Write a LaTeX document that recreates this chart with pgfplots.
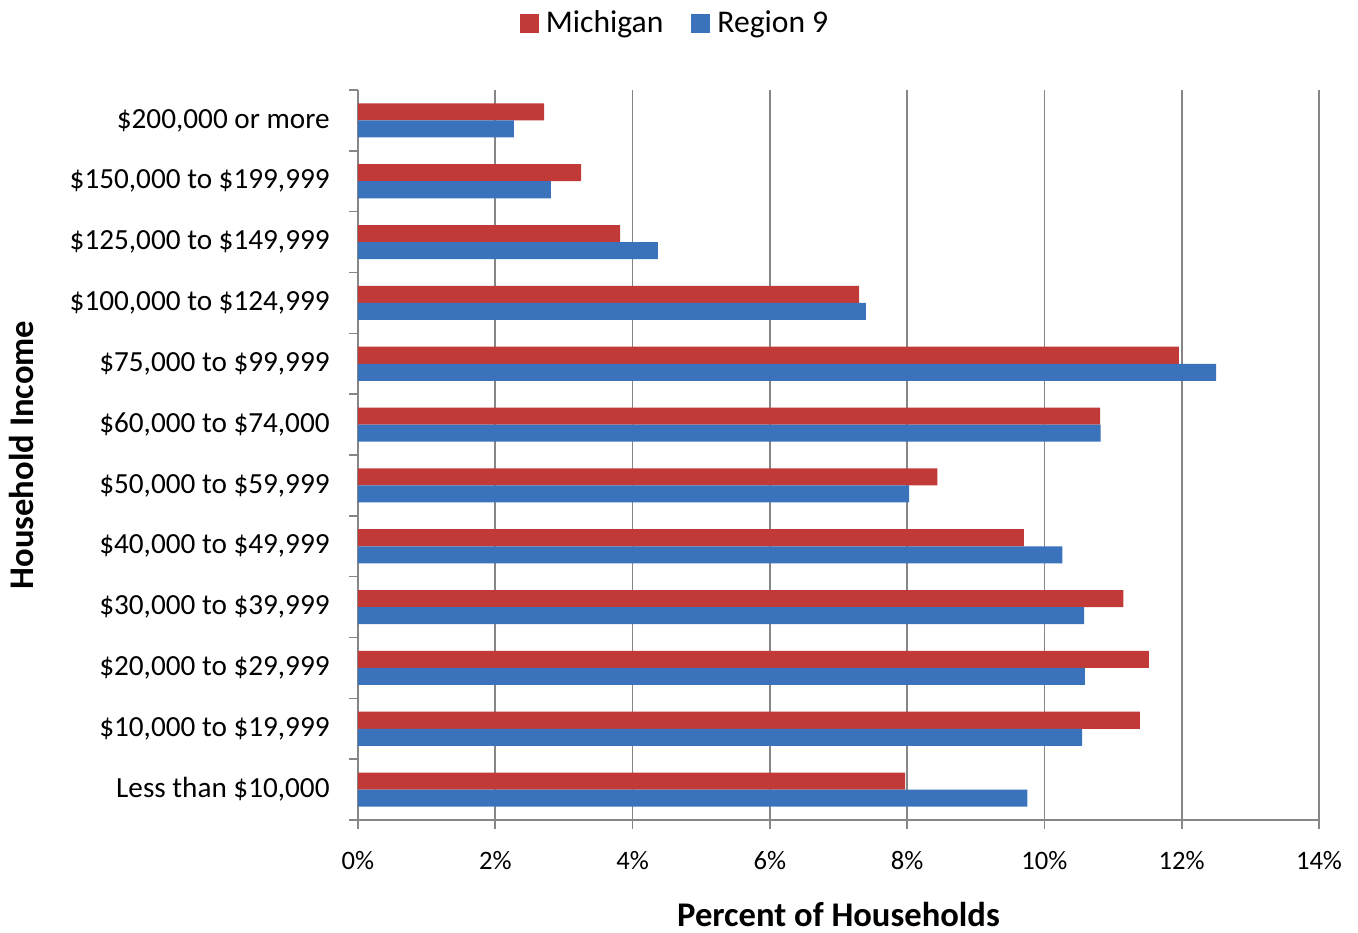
\documentclass[border=0pt]{standalone}
\usepackage{pgfplots}
\pgfplotsset{compat=1.18}
\usepackage{fontspec}
\setmainfont{Carlito}
\definecolor{gridgray}{HTML}{868686}
\definecolor{redbar}{HTML}{C13A38}
\definecolor{bluebar}{HTML}{3A73BC}
\begin{document}
\begin{tikzpicture}
\begin{axis}[
  scale only axis,
  width=480.5pt, height=365pt,
  xmin=0, xmax=14, ymin=-0.5, ymax=11.5,
  xbar, bar width=0.28,
  axis x line*=bottom, axis y line*=left,
  axis line style={gridgray, line width=0.8pt},
  xmajorgrids, major grid style={gridgray, line width=0.8pt},
  xtick={0,2,...,14},
  xticklabels={0\%,2\%,4\%,6\%,8\%,10\%,12\%,14\%},
  ytick={0,...,11},
  minor ytick={-0.5,0.5,...,11.5},
  yticklabels={Less than \$10{,}000,\$10{,}000 to \$19{,}999,\$20{,}000 to \$29{,}999,\$30{,}000 to \$39{,}999,\$40{,}000 to \$49{,}999,\$50{,}000 to \$59{,}999,\$60{,}000 to \$74{,}000,\$75{,}000 to \$99{,}999,\$100{,}000 to \$124{,}999,\$125{,}000 to \$149{,}999,\$150{,}000 to \$199{,}999,\$200{,}000 or more},
  tick align=outside,
  major tick length=4.5pt, minor tick length=4.5pt,
  major y tick style={draw=none},
  minor y tick style={draw=gridgray, line width=0.8pt},
  xtick style={draw=gridgray, line width=0.8pt},
  yticklabel style={font=\fontsize{14.6}{17}\selectfont, anchor=east, inner sep=0pt, xshift=-9.5pt},
  xticklabel style={font=\fontsize{13.3}{16}\selectfont, anchor=center, inner sep=0pt},
  xticklabel shift=16pt,
  xlabel={Percent of Households},
  ylabel={Household Income},
  xlabel style={font=\fontsize{17.3}{20}\selectfont\bfseries, inner sep=1pt, at={(axis description cs:0.5,-0.129)}, anchor=center},
  ylabel style={font=\fontsize{17.3}{20}\selectfont\bfseries, at={(axis description cs:-0.3497,0.5)}, anchor=center},
  legend columns=2,
  legend style={draw=none, fill=none, at={(axis description cs:0.331,1.0917)}, anchor=center,
    font=\fontsize{15.8}{18}\selectfont, /tikz/every even column/.append style={column sep=12pt},
    /tikz/every odd column/.append style={column sep=1.5pt}},
  legend image code/.code={\path[#1] (0pt,-4.75pt) rectangle (9.5pt,4.75pt);},
]
\addplot[draw=none, bar shift=0.14, fill=redbar] coordinates {
(7.97,0) (11.39,1) (11.52,2) (11.15,3) (9.70,4) (8.44,5) (10.81,6) (11.96,7) (7.30,8) (3.82,9) (3.25,10) (2.71,11)};
\addplot[draw=none, bar shift=-0.14, fill=bluebar] coordinates {
(9.75,0) (10.55,1) (10.59,2) (10.58,3) (10.26,4) (8.03,5) (10.82,6) (12.50,7) (7.40,8) (4.37,9) (2.81,10) (2.27,11)};
\legend{Michigan,Region 9}
\end{axis}
\pgfresetboundingbox
\path (-179pt,-56pt) rectangle (500pt,410pt);
\end{tikzpicture}
\end{document}
